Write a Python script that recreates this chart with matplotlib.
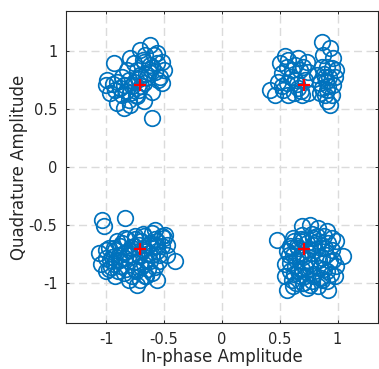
import matplotlib
matplotlib.use("Agg")
import matplotlib.pyplot as plt

# Received QPSK symbols (in-phase / quadrature), grouped by quadrant
i_q2 = [-0.934, -0.991, -1.006, -0.963, -0.905, -0.790, -0.848, -0.603, -0.676, -0.603,
        -0.517, -0.503, -0.517, -0.560, -0.618, -0.704, -0.790, -0.819, -0.862, -0.733,
        -0.676, -0.603, -0.647, -0.762, -0.848, -0.905, -0.719, -0.790, -0.862, -0.532,
        -0.676, -0.733, -0.920, -0.590, -0.661, -0.560, -0.633, -0.762, -0.805, -0.704,
        -0.880, -0.830, -0.780, -0.740, -0.700, -0.660, -0.620, -0.580, -0.550, -0.680,
        -0.720, -0.800, -0.940]
q_q2 = [0.897, 0.753, 0.709, 0.638, 0.552, 0.537, 0.509, 0.422, 0.566, 0.652,
        0.724, 0.839, 0.910, 0.983, 1.054, 1.011, 0.940, 0.839, 0.781, 0.839,
        0.910, 0.867, 0.781, 0.738, 0.709, 0.738, 0.666, 0.638, 0.623, 0.781,
        0.724, 0.609, 0.666, 0.968, 0.968, 0.897, 0.824, 0.897, 0.753, 0.796,
        0.680, 0.660, 0.700, 0.620, 0.700, 0.800, 0.880, 0.820, 0.750, 0.920,
        0.760, 0.580, 0.720]

i_q1 = [0.416, 0.459, 0.503, 0.517, 0.488, 0.574, 0.660, 0.733, 0.747, 0.603,
        0.560, 0.632, 0.574, 0.690, 0.747, 0.660, 0.531, 0.675, 0.718, 0.546,
        0.632, 0.862, 0.934, 0.876, 0.962, 0.862, 0.948, 0.977, 0.891, 0.847,
        0.962, 0.905, 0.847, 0.948, 0.905, 0.934, 0.819, 0.991,
        0.880, 0.900, 0.920, 0.870, 0.930, 0.890, 0.910, 0.600, 0.650, 0.560,
        0.700, 0.680, 0.520, 0.620]
q_q1 = [0.666, 0.623, 0.897, 0.810, 0.738, 0.925, 0.940, 0.910, 0.824, 0.839,
        0.724, 0.753, 0.623, 0.623, 0.638, 0.681, 0.666, 0.839, 0.753, 0.960,
        0.882, 1.083, 1.026, 0.968, 0.940, 0.867, 0.853, 0.781, 0.781, 0.724,
        0.709, 0.666, 0.638, 0.623, 0.566, 0.537, 0.796, 0.839,
        0.800, 0.740, 0.700, 0.680, 0.780, 0.620, 0.860, 0.780, 0.720, 0.860,
        0.860, 0.660, 0.700, 0.640]

i_q3 = [-1.034, -1.021, -0.834, -1.064, -1.049, -1.006, -0.920, -0.805, -0.733, -0.704,
        -0.560, -0.603, -0.403, -0.474, -0.489, -0.474, -0.560, -0.603, -0.676, -0.747,
        -0.834, -0.905, -0.978, -0.963, -0.891, -0.877, -0.805, -0.805, -0.747, -0.676,
        -0.719, -0.633, -0.633, -0.560, -0.547, -0.618, -0.934, -1.006, -0.848, -0.762,
        -0.877, -0.503, -0.676, -0.834, -0.934, -0.776, -0.517, -0.575, -0.978, -0.661,
        -0.719, -0.891,
        -0.950, -0.920, -0.880, -0.850, -0.830, -0.800, -0.780, -0.760, -0.740, -0.720,
        -0.700, -0.680, -0.660, -0.640, -0.620, -0.600, -0.580, -0.560, -0.540, -0.520,
        -0.900, -0.960, -1.000, -0.860, -0.820, -0.700, -0.660, -0.580, -0.750, -0.680]
q_q3 = [-0.454, -0.512, -0.440, -0.741, -0.842, -0.900, -0.943, -0.972, -1.015, -0.972,
        -0.972, -0.914, -0.814, -0.756, -0.584, -0.670, -0.641, -0.569, -0.598, -0.598,
        -0.612, -0.641, -0.698, -0.799, -0.756, -0.857, -0.814, -0.713, -0.885, -0.842,
        -0.771, -0.741, -0.670, -0.728, -0.814, -0.814, -0.698, -0.784, -0.914, -0.684,
        -0.684, -0.612, -0.698, -0.784, -0.842, -0.943, -0.684, -0.541, -0.885, -0.943,
        -0.670, -0.799,
        -0.780, -0.720, -0.800, -0.740, -0.880, -0.760, -0.700, -0.820, -0.900, -0.760,
        -0.640, -0.720, -0.800, -0.880, -0.660, -0.760, -0.620, -0.680, -0.760, -0.600,
        -0.900, -0.860, -0.720, -0.660, -0.620, -0.860, -0.940, -0.860, -0.620, -0.580]

i_q4 = [0.474, 0.761, 0.690, 0.833, 0.948, 1.048, 0.991, 0.977, 0.919, 0.833,
        0.733, 0.560, 0.546, 0.546, 0.560, 0.617, 0.891, 0.862, 0.905, 0.790,
        0.675, 0.632, 0.617, 0.703, 0.790, 0.804, 0.733, 0.761, 0.690, 0.603,
        0.905, 0.948, 0.647, 0.589, 0.847, 0.934, 0.733, 0.675, 0.862, 0.703,
        0.617, 0.790, 0.589, 0.833, 0.690, 0.589, 0.991, 0.776, 0.905,
        0.600, 0.640, 0.660, 0.680, 0.700, 0.720, 0.740, 0.760, 0.780, 0.800,
        0.820, 0.840, 0.860, 0.880, 0.900, 0.920, 0.940, 0.620, 0.580, 0.660,
        0.720, 0.780, 0.860, 0.960, 0.700, 0.620, 0.800, 0.880, 0.760, 0.640]
q_q4 = [-0.627, -0.497, -0.512, -0.526, -0.612, -0.771, -0.857, -0.943, -1.058, -1.029,
        -1.043, -1.058, -0.943, -0.842, -0.728, -0.612, -0.698, -0.784, -0.900, -0.943,
        -0.943, -0.857, -0.756, -0.627, -0.612, -0.713, -0.799, -0.871, -0.885, -0.972,
        -0.555, -0.713, -0.684, -0.828, -0.871, -0.814, -0.713, -0.771, -0.972, -1.000,
        -1.029, -0.670, -0.900, -0.641, -0.584, -0.684, -0.641, -0.986, -0.986,
        -0.700, -0.800, -0.900, -0.620, -0.780, -0.940, -0.660, -0.840, -0.740, -0.920,
        -0.600, -0.800, -0.700, -0.880, -0.760, -0.660, -0.920, -0.920, -0.760, -0.700,
        -0.860, -0.580, -0.960, -0.800, -1.000, -0.640, -0.660, -0.600, -1.020, -1.000]

# Ideal reference constellation
ref_i = [0.7071, -0.7071, -0.7071, 0.7071]
ref_q = [0.7071, 0.7071, -0.7071, -0.7071]

ticks = [-1, -0.5, 0, 0.5, 1]
tick_labels = ["-1", "-0.5", "0", "0.5", "1"]

text_col = "#262626"
plt.rcParams["font.family"] = ["DejaVu Sans"]
plt.rcParams["lines.scale_dashes"] = False

fig = plt.figure(figsize=(3.79, 3.69), dpi=100)
ax = fig.add_axes([0.1734, 0.1238, 0.8240, 0.8472])

rx = i_q2 + i_q1 + i_q3 + i_q4
ry = q_q2 + q_q1 + q_q3 + q_q4
ax.plot(rx, ry, linestyle="none", marker="o", markersize=11.2,
        markerfacecolor="none", markeredgecolor="#0072BD",
        markeredgewidth=1.25, zorder=3)
ax.plot(ref_i, ref_q, linestyle="none", marker="+", markersize=8,
        markeredgecolor="#FF0000", markeredgewidth=1.6, zorder=4)

ax.set_xlim(-1.35, 1.35)
ax.set_ylim(-1.35, 1.35)
ax.set_xticks(ticks)
ax.set_xticklabels(tick_labels)
ax.set_yticks(ticks)
ax.set_yticklabels(tick_labels)

ax.grid(True, color="#DBDBDB", linewidth=1.0, linestyle=(0, (5.8, 3.2)), zorder=0)
ax.set_axisbelow(True)
ax.tick_params(direction="in", length=2.3, width=0.7, colors=text_col,
               labelsize=10.5, top=True, right=True, pad=6)
for s in ax.spines.values():
    s.set_color(text_col)
    s.set_linewidth(0.8)

ax.set_xlabel("In-phase Amplitude", fontsize=12, color=text_col, labelpad=1)
ax.set_ylabel("Quadrature Amplitude", fontsize=12, color=text_col, labelpad=0.5)

fig.savefig("out.png", dpi=100)
